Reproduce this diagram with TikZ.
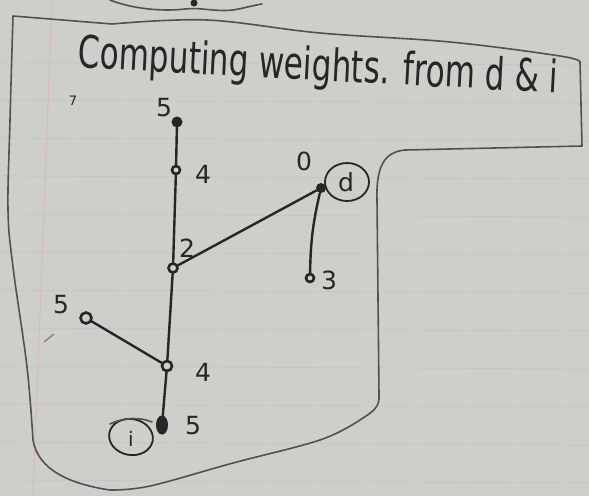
\documentclass[tikz,border=0pt]{standalone}
\usepackage{graphicx}
\usepackage{fontspec}
\setmainfont{DejaVu Sans}
\usetikzlibrary{shapes.geometric}
\definecolor{paper}{RGB}{206,206,202}
\definecolor{pencil}{RGB}{38,38,38}
\definecolor{rule}{RGB}{192,198,201}
\definecolor{margin}{RGB}{214,184,193}
\begin{document}
\begin{tikzpicture}[x=1pt,y=-1pt,
  pen/.style={draw=pencil, line width=2.4pt, line cap=round, line join=round},
  thinpen/.style={draw=pencil!80, line width=1.6pt, line cap=round, line join=round},
  vfill/.style={circle, fill=pencil, inner sep=0pt, minimum size=11pt},
  vopen/.style={circle, draw=pencil, line width=2.6pt, fill=paper, inner sep=0pt, minimum size=9pt},
  lbl/.style={text=pencil, inner sep=0pt, font=\fontsize{25}{25}\selectfont},
  ring/.style={ellipse, draw=pencil, line width=1.8pt, inner sep=0pt}
]
\fill[paper] (0,0) rectangle (589,496);
\useasboundingbox (0,0) rectangle (589,496);
% ruled paper
\foreach \yy in {62,100,138,176,214,252,290,328,366,404,442,480}
  \draw[rule, line width=0.7pt] (0,\yy) -- (589,\yy+3);
\draw[margin, line width=1pt] (52,0) -- (33,496);
% fragment of another drawing at the top
\draw[thinpen] (110,0) .. controls (130,8) and (160,12) .. (185,9)
  .. controls (200,7) and (215,12) .. (233,10) .. controls (245,8) and (255,5) .. (262,4);
\fill[pencil] (194,3) circle (3.5pt);
% outline
\draw[thinpen] plot[smooth, tension=0.6] coordinates {(112,24) (207,20) (320,33) (450,42) (560,56) (580,62)}
  -- (582,146) -- (405,150) .. controls (385,152) and (376,165) .. (377,200)
  -- (379,395) .. controls (380,408) and (372,412) .. (360,420)
  -- plot[smooth, tension=0.6] coordinates {(360,420) (320,440) (233,463) (150,486) (110,490)}
  .. controls (70,484) and (38,470) .. (33,440)
  -- plot[smooth, tension=0.6] coordinates {(33,440) (27,367) (13,267) (8,210) (10,120) (13,16)}
  -- cycle;
% title
\node[text=pencil, inner sep=0pt, rotate=-3] (title) at (318,68)
  {\resizebox{480pt}{34pt}{Computing weights. from d \& i}};
\node[text=pencil, inner sep=0pt, font=\fontsize{13}{13}\selectfont] (mark) at (73,101) {7};
% vertices
\node[vfill] (t5) at (177,122) {};
\node[vopen, minimum size=8pt] (t4) at (176,170) {};
\node[vopen] (n2) at (173,268) {};
\node[vfill, minimum size=10pt] (d) at (321,188) {};
\node[vopen, minimum size=8pt] (n3) at (310,278) {};
\node[vopen, minimum size=11pt] (l5) at (86,318) {};
\node[vopen, minimum size=10pt] (n4) at (167,366) {};
\node[ellipse, fill=pencil, inner sep=0pt, minimum width=12pt, minimum height=19pt] (i) at (162,425) {};
% edges
\draw[pen] (t5) -- (t4);
\draw[pen] (t4) -- (n2);
\draw[pen] (n2) -- (d);
\draw[pen] (d) to[bend right=6] (n3);
\draw[pen] (n2) -- (n4);
\draw[pen] (l5) -- (n4);
\draw[pen] (n4) -- (i);
% labels
\node[lbl] (lt5) at (164,108) {5};
\node[lbl] (lt4) at (203,174) {4};
\node[lbl] (ln2) at (187,248) {2};
\node[lbl] (ld0) at (304,161) {0};
\node[lbl] (ln3) at (329,280) {3};
\node[lbl] (ll5) at (61,305) {5};
\node[lbl] (ln4) at (203,372) {4};
\node[lbl] (li5) at (193,426) {5};
\node[ring, minimum width=44pt, minimum height=38pt] (dring) at (347,182) {};
\node[lbl] (dtxt) at (346,182) {d};
\node[ring, minimum width=44pt, minimum height=36pt, rotate=-10] (iring) at (131,437) {};
\node[lbl, font=\fontsize{20}{20}\selectfont] (itxt) at (131,439) {i};
\draw[thinpen] (110,424) .. controls (125,417) and (140,417) .. (152,422);
\draw[draw=pencil!60, line width=1.2pt] (44,342) -- (54,334);
\end{tikzpicture}
\end{document}
